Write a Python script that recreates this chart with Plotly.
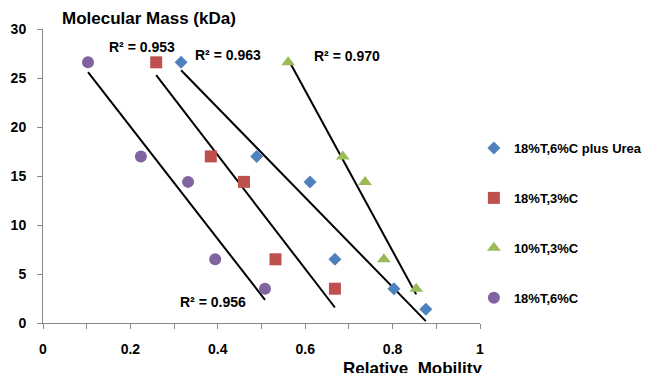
import numpy as np
import plotly.graph_objects as go

series_names = ["18%T,6%C plus Urea", "18%T,3%C", "10%T,3%C", "18%T,6%C"]
x_urea = [0.316, 0.489, 0.611, 0.668, 0.803, 0.876]
y_urea = [26.6, 17.0, 14.4, 6.5, 3.5, 1.4]
x_183 = [0.259, 0.384, 0.460, 0.532, 0.668]
y_183 = [26.6, 17.0, 14.4, 6.5, 3.5]
x_103 = [0.561, 0.686, 0.737, 0.780, 0.854]
y_103 = [26.6, 17.0, 14.4, 6.5, 3.5]
x_186 = [0.103, 0.224, 0.332, 0.394, 0.508]
y_186 = [26.6, 17.0, 14.4, 6.5, 3.5]
r2_labels = ["R² = 0.963", "R² = 0.953", "R² = 0.970", "R² = 0.956"]

colors = ["#4F81BD", "#C0504D", "#9BBB59", "#8064A2"]
symbols = ["diamond", "square", "triangle-up", "circle"]
sizes = [10, 12, 12, 12]
xs = [x_urea, x_183, x_103, x_186]
ys = [y_urea, y_183, y_103, y_186]
label_pos = [(0.424, 27.3), (0.226, 28.2), (0.695, 27.2), (0.388, 2.1)]

fig = go.Figure()
font_b = "Liberation Sans"
for i in range(4):
    x = np.array(xs[i]); y = np.array(ys[i])
    m, b = np.polyfit(x, y, 1)
    xl = np.array([x.min(), x.max()])
    fig.add_trace(go.Scatter(x=xl, y=m * xl + b, mode="lines",
                             line=dict(color="black", width=2), showlegend=False,
                             hoverinfo="skip"))
for i in range(4):
    fig.add_trace(go.Scatter(x=xs[i], y=ys[i], mode="markers", name="<b>" + series_names[i] + "</b>",
                             legendgroup=str(i),
                             marker=dict(color=colors[i], symbol=symbols[i], size=sizes[i],
                                         line=dict(width=0))))

for txt, (ax, ay) in zip(r2_labels, label_pos):
    fig.add_annotation(x=ax, y=ay, text="<b>" + txt + "</b>", showarrow=False,
                       font=dict(family=font_b, size=14, color="black"))

fig.add_annotation(xref="paper", yref="paper", x=0.039, y=1.0, xanchor="left", yanchor="bottom",
                   yshift=-1, text="<b>Molecular Mass (kDa)</b>", showarrow=False,
                   font=dict(family=font_b, size=17, color="black"))
fig.add_annotation(xref="paper", yref="paper", x=0.8455, y=0, xanchor="center", yanchor="top",
                   yshift=-34, text="<b>Relative  Mobility</b>", showarrow=False,
                   font=dict(family=font_b, size=17, color="black"))

fig.update_layout(
    width=652, height=373,
    margin=dict(l=35, r=180, t=21, b=58.3, autoexpand=False),
    plot_bgcolor="white", paper_bgcolor="white",
    font=dict(family=font_b, size=14, color="black"),
    legend=dict(x=0.986, y=0.34, xanchor="left", yanchor="middle", bgcolor="rgba(0,0,0,0)",
                font=dict(family=font_b, size=13, color="black"),
                tracegroupgap=30, itemwidth=30),
    xaxis=dict(range=[0, 1], tickvals=[0, 0.2, 0.4, 0.6, 0.8, 1.0],
               ticktext=["<b>0</b>", "<b>0.2</b>", "<b>0.4</b>", "<b>0.6</b>", "<b>0.8</b>", "<b>1</b>"],
               minor=dict(ticks="outside", ticklen=5, tickcolor="#888", dtick=0.1, showgrid=False),
               showgrid=False, zeroline=False, showline=True, linecolor="#888", linewidth=1,
               ticks="outside", ticklen=5, tickcolor="#888", ticklabelstandoff=8, automargin=False),
    yaxis=dict(range=[0, 30], tickvals=[0, 5, 10, 15, 20, 25, 30],
               ticktext=["<b>%d</b>" % v for v in [0, 5, 10, 15, 20, 25, 30]],
               showgrid=False, zeroline=False, showline=True, linecolor="#888", linewidth=1,
               ticks="outside", ticklen=5, tickcolor="#888", ticklabelstandoff=8, automargin=False),
)
fig.write_html("out.html")
